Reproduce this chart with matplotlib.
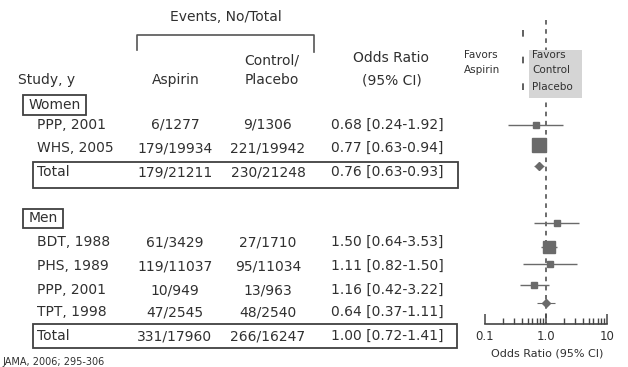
import matplotlib
matplotlib.use("Agg")
import matplotlib.pyplot as plt
from matplotlib.patches import Rectangle

# ---- data -------------------------------------------------------------
women_studies = ["PPP, 2001", "WHS, 2005", "Total"]
women_aspirin = ["6/1277", "179/19934", "179/21211"]
women_control = ["9/1306", "221/19942", "230/21248"]
women_or = [0.68, 0.77, 0.76]
women_lo = [0.24, 0.63, 0.63]
women_hi = [1.92, 0.94, 0.93]

men_studies = ["BDT, 1988", "PHS, 1989", "PPP, 2001", "TPT, 1998", "Total"]
men_aspirin = ["61/3429", "119/11037", "10/949", "47/2545", "331/17960"]
men_control = ["27/1710", "95/11034", "13/963", "48/2540", "266/16247"]
men_or = [1.50, 1.11, 1.16, 0.64, 1.00]
men_lo = [0.64, 0.82, 0.42, 0.37, 0.72]
men_hi = [3.53, 1.50, 3.22, 1.11, 1.41]

axis_ticks = [0.1, 1.0, 10]
axis_labels = ["0.1", "1.0", "10"]

# ---- layout (pixel coordinates, y downward) ---------------------------
W, H = 628, 367
women_text_y = [125, 148, 172]
men_text_y = [242, 266, 290, 312, 336]
women_plot_y = [125, 145, 166]
men_plot_y = [223, 247, 264, 285, 303]
women_msize = [4.5, 10.5, 0]
men_msize = [4.0, 9.0, 4.5, 4.0, 0]

TXT = "#303030"
MARK = "#6a6a6a"
FS = 10

plt.rcParams["font.family"] = ["DejaVu Sans"]

fig = plt.figure(figsize=(W / 100, H / 100), dpi=100)

# forest plot panel (log odds-ratio axis)
axf = fig.add_axes([485 / W, 0, 122 / W, 1])
axf.set_xscale("log")
axf.set_xlim(0.1, 10)
axf.set_ylim(H, 0)
for s in ["top", "left", "right"]:
    axf.spines[s].set_visible(False)
axf.spines["bottom"].set_position(("data", 324))
axf.spines["bottom"].set_color("#444444")
axf.spines["bottom"].set_linewidth(1.2)
axf.set_yticks([])
axf.set_xticks(axis_ticks)
axf.set_xticklabels(axis_labels)
axf.tick_params(axis="x", which="major", direction="in", length=7, width=1.1,
                color="#444444", labelsize=8.5, labelcolor=TXT, pad=4)
axf.tick_params(axis="x", which="minor", direction="in", length=4, width=1.0,
                color="#444444")
axf.patch.set_alpha(0)

# reference line at OR = 1
axf.plot([1, 1], [20, 324], color="#444444", lw=1.1, dashes=(3, 3), zorder=1)

def draw_rows(ors, los, his, ys, sizes):
    for o, lo, hi, y, ms in zip(ors, los, his, ys, sizes):
        if ms > 0:
            axf.hlines(y, lo, hi, color=MARK, lw=1.0, zorder=2)
            axf.plot(o, y, marker="s", ms=ms, color=MARK, mec=MARK, zorder=3)
        else:
            axf.hlines(y, lo, hi, color=MARK, lw=0.8, zorder=2)
            axf.plot(o, y, marker="D", ms=4.5, color=MARK, mec=MARK, zorder=3)

draw_rows(women_or, women_lo, women_hi, women_plot_y, women_msize)
draw_rows(men_or, men_lo, men_hi, men_plot_y, men_msize)

# table panel on top (no background)
ax = fig.add_axes([0, 0, 1, 1])
ax.set_xlim(0, W)
ax.set_ylim(H, 0)
ax.axis("off")

def t(x, y, s, ha="left", fs=FS, **kw):
    ax.text(x, y, s, ha=ha, va="center", fontsize=fs, color=TXT, **kw)

# header
t(226, 17, "Events, No/Total", ha="center")
ax.plot([137, 137, 314, 314], [50, 35, 35, 52], color="#555555", lw=1.2)
t(18, 80, "Study, y")
t(176, 80, "Aspirin", ha="center")
t(272, 60, "Control/", ha="center")
t(272, 80, "Placebo", ha="center")
t(391, 58, "Odds Ratio", ha="center")
t(392, 80, "(95% CI)", ha="center")

# favors labels
t(464, 55, "Favors", fs=7.5)
t(464, 70, "Aspirin", fs=7.5)
ax.add_patch(Rectangle((529, 50), 53, 48, facecolor="#d5d5d5", edgecolor="none", zorder=2))
t(532, 55, "Favors", fs=7.5, zorder=3)
t(532, 70, "Control", fs=7.5, zorder=3)
t(532, 87, "Placebo", fs=7.5, zorder=3)
ax.plot([523, 523], [30, 100], color="#444444", lw=1.2, dashes=(4, 12))

# group labels
ax.add_patch(Rectangle((23, 95), 63, 20, fill=False, edgecolor="#404040", lw=1.3))
t(54.5, 105, "Women", ha="center")
ax.add_patch(Rectangle((23, 209), 40, 19, fill=False, edgecolor="#404040", lw=1.3))
t(43, 218.5, "Men", ha="center")

def table_rows(names, asp, ctl, ors, los, his, ys):
    for n, a, c, o, lo, hi, y in zip(names, asp, ctl, ors, los, his, ys):
        t(37, y, n)
        t(175, y, a, ha="center")
        t(268, y, c, ha="center")
        t(331, y, f"{o:.2f} [{lo:.2f}-{hi:.2f}]")

table_rows(women_studies, women_aspirin, women_control, women_or, women_lo, women_hi, women_text_y)
table_rows(men_studies, men_aspirin, men_control, men_or, men_lo, men_hi, men_text_y)

# total boxes
ax.add_patch(Rectangle((33, 162), 425, 26, fill=False, edgecolor="#404040", lw=1.3))
ax.add_patch(Rectangle((33, 324), 424, 24, fill=False, edgecolor="#404040", lw=1.3))

t(547, 353, "Odds Ratio (95% CI)", ha="center", fs=8)
t(2, 362, "JAMA, 2006; 295-306", fs=7)

fig.savefig("out.png", dpi=100)
